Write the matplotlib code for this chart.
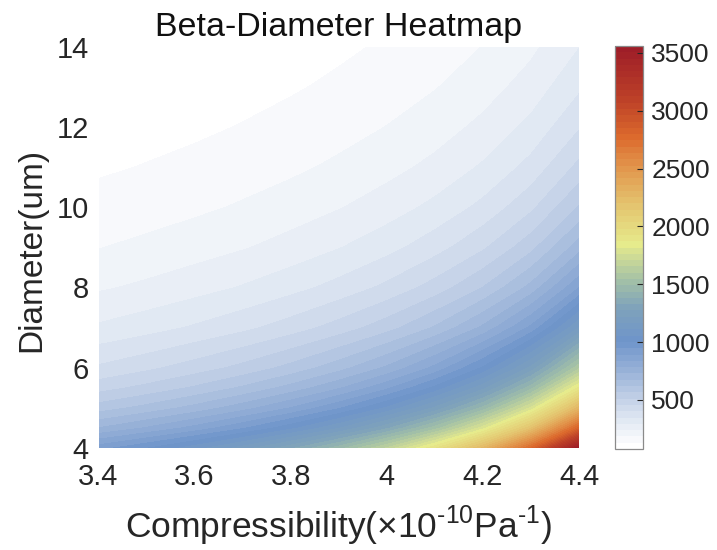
import numpy as np
import matplotlib
matplotlib.use("Agg")
import matplotlib.pyplot as plt
from matplotlib.colors import LinearSegmentedColormap, ListedColormap

plt.rcParams['font.family'] = ['Liberation Sans', 'DejaVu Sans']
plt.rcParams['mathtext.fontset'] = 'custom'
plt.rcParams['mathtext.rm'] = 'Liberation Sans'

# ---- data ----
compressibility = [3.4, 3.5, 3.6, 3.7, 3.8, 3.9, 4.0, 4.1, 4.2, 4.3, 4.4]
diameter = [4, 4.5, 5, 5.5, 6, 7, 8, 9, 10, 11, 12, 13, 14]
beta = [
    [923, 997, 1083, 1187, 1312, 1466, 1661, 1917, 2265, 2769, 3560],   # d=4
    [729, 788, 856, 938, 1036, 1158, 1313, 1515, 1790, 2188, 2813],     # d=4.5
    [591, 638, 693, 759, 839, 938, 1063, 1227, 1450, 1772, 2278],       # d=5
    [488, 527, 573, 628, 694, 775, 879, 1014, 1198, 1465, 1883],        # d=5.5
    [410, 443, 482, 527, 583, 652, 738, 852, 1007, 1231, 1582],         # d=6
    [301, 325, 354, 387, 428, 479, 542, 626, 740, 904, 1162],           # d=7
    [231, 249, 271, 297, 328, 366, 415, 479, 566, 692, 890],            # d=8
    [182, 197, 214, 234, 259, 290, 328, 379, 447, 547, 703],            # d=9
    [148, 159, 173, 190, 210, 235, 266, 307, 362, 443, 570],            # d=10
    [122, 132, 143, 157, 173, 194, 220, 253, 300, 366, 471],            # d=11
    [103, 111, 120, 132, 146, 163, 185, 213, 252, 308, 396],            # d=12
    [87, 94, 103, 112, 124, 139, 157, 181, 214, 262, 337],              # d=13
    [75, 81, 88, 97, 107, 120, 136, 156, 185, 226, 291],                # d=14
]
x_ticks = [3.4, 3.6, 3.8, 4.0, 4.2, 4.4]
x_ticklabels = ['3.4', '3.6', '3.8', '4', '4.2', '4.4']
y_ticks = [4, 6, 8, 10, 12, 14]
cbar_ticks = [500, 1000, 1500, 2000, 2500, 3000, 3500]

# ---- colormap (style) ----
cmap_pos = [0.0, 0.07, 0.122, 0.19, 0.265, 0.35, 0.41, 0.509, 0.61, 0.696, 0.78, 0.87, 1.0]
cmap_rgb = [(255, 255, 255), (222, 230, 242), (192, 207, 230), (150, 176, 215),
            (110, 148, 202), (128, 163, 186), (160, 190, 168), (230, 235, 140),
            (228, 195, 110), (226, 152, 78), (220, 106, 45), (190, 66, 40),
            (158, 30, 40)]
base = LinearSegmentedColormap.from_list(
    'custom', [(p, tuple(c / 255 for c in rgb)) for p, rgb in zip(cmap_pos, cmap_rgb)])
cmap = ListedColormap(base(np.linspace(0, 1, 64)))

Z = np.array(beta, dtype=float)
levels = np.linspace(Z.min(), Z.max(), 65)

fig = plt.figure(figsize=(7.17, 5.5), dpi=100)
ax = fig.add_axes([98.5 / 717, 1 - 448 / 550, (579 - 98.5) / 717, (448 - 46.7) / 550])
cs = ax.contourf(compressibility, diameter, Z, levels=levels, cmap=cmap, antialiased=False)
ax.set_xlim(3.4, 4.4)
ax.set_ylim(4, 14)
for s in ax.spines.values():
    s.set_visible(False)
ax.set_xticks(x_ticks)
ax.set_xticklabels(x_ticklabels)
ax.set_yticks(y_ticks)
ax.tick_params(axis='both', length=0, labelsize=21, colors='#262626')
ax.tick_params(axis='x', pad=11)
ax.tick_params(axis='y', pad=7)

text_col = '#262626'
fig.text(338.5 / 717, 1 - 36 / 550, 'Beta-Diameter Heatmap', ha='center', va='baseline',
         fontsize=24.5, color='#111111')
fig.text(339 / 717, 1 - 538 / 550,
         r'Compressibility(×10$^{\text{-10}}$Pa$^{\text{-1}}$)',
         ha='center', va='baseline', fontsize=25.5, color=text_col)
fig.text(40 / 717, 1 - 250 / 550, 'Diameter(um)', rotation=90, ha='center', va='baseline',
         fontsize=24, color=text_col, rotation_mode='anchor')

cax = fig.add_axes([615 / 717, 1 - 449 / 550, 28 / 717, 403 / 550])
cb = fig.colorbar(cs, cax=cax, ticks=cbar_ticks)
cb.outline.set_edgecolor('#8a8a8a')
cb.outline.set_linewidth(0.9)
cax.tick_params(direction='in', length=4, width=0.8, colors='#262626', labelsize=19, pad=6)
cax.tick_params(which='minor', length=0)

fig.savefig('out.png', dpi=100)
